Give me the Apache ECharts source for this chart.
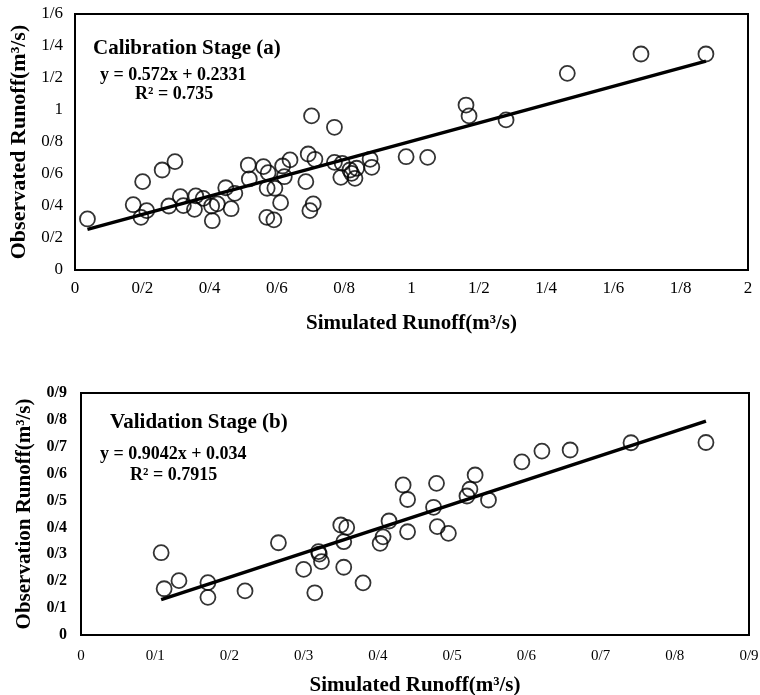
<!DOCTYPE html>
<html>
<head>
<meta charset="utf-8">
<script src="https://cdn.jsdelivr.net/npm/echarts@6/dist/echarts.min.js"></script>
<style>
  html, body { margin: 0; padding: 0; background: #fff; }
  #container { width: 760px; height: 695px; }
</style>
</head>
<body>
<div id="container"></div>
<script>
// calibration stage (a): simulated vs observed
const calibSim = [0.037, 0.173, 0.201, 0.196, 0.213, 0.259, 0.297, 0.279, 0.313, 0.322,
    0.355, 0.359, 0.381, 0.406, 0.423, 0.408, 0.448, 0.464, 0.475, 0.515,
    0.518, 0.560, 0.574, 0.571, 0.594, 0.570, 0.591, 0.611, 0.617, 0.622,
    0.639, 0.686, 0.693, 0.703, 0.698, 0.708, 0.713, 0.771, 0.771, 0.790,
    0.794, 0.817, 0.822, 0.832, 0.837, 0.877, 0.882, 0.984, 1.048, 1.162,
    1.171, 1.281, 1.463, 1.682, 1.875];
const calibObs = [0.319, 0.408, 0.552, 0.329, 0.371, 0.625, 0.677, 0.400, 0.458, 0.402,
    0.379, 0.463, 0.448, 0.400, 0.413, 0.308, 0.514, 0.383, 0.479, 0.656,
    0.569, 0.646, 0.608, 0.511, 0.511, 0.329, 0.313, 0.421, 0.650, 0.583,
    0.688, 0.552, 0.725, 0.963, 0.371, 0.413, 0.692, 0.892, 0.673, 0.579,
    0.667, 0.625, 0.604, 0.573, 0.636, 0.692, 0.642, 0.708, 0.704, 1.031,
    0.963, 0.938, 1.229, 1.350, 1.350];

// validation stage (b)
const validSim = [0.108, 0.112, 0.132, 0.171, 0.171, 0.221, 0.266, 0.300, 0.315, 0.320,
    0.321, 0.324, 0.350, 0.358, 0.354, 0.354, 0.380, 0.403, 0.407, 0.415,
    0.434, 0.440, 0.440, 0.475, 0.479, 0.480, 0.495, 0.520, 0.524, 0.531,
    0.549, 0.594, 0.621, 0.659, 0.741, 0.842];
const validObs = [0.306, 0.172, 0.202, 0.195, 0.140, 0.164, 0.343, 0.244, 0.157, 0.310,
    0.301, 0.273, 0.409, 0.400, 0.347, 0.252, 0.194, 0.341, 0.365, 0.424,
    0.558, 0.504, 0.384, 0.475, 0.564, 0.403, 0.378, 0.517, 0.542, 0.595,
    0.502, 0.644, 0.684, 0.688, 0.715, 0.716];

// trend lines (slope, intercept) as printed on the chart
const calibFit = [0.572, 0.2331];
const validFit = [0.9042, 0.034];

const calibXTicks = ['0', '0/2', '0/4', '0/6', '0/8', '1', '1/2', '1/4', '1/6', '1/8', '2'];
const calibYTicks = ['0', '0/2', '0/4', '0/6', '0/8', '1', '1/2', '1/4', '1/6'];
const validTicks = ['0', '0/1', '0/2', '0/3', '0/4', '0/5', '0/6', '0/7', '0/8', '0/9'];

function zip(a, b) {
    return a.map((v, i) => [v, b[i]]);
}

function fitLine(xs, fit) {
    const lo = Math.min(...xs), hi = Math.max(...xs);
    return [[lo, fit[0] * lo + fit[1]], [hi, fit[0] * hi + fit[1]]];
}

function tickFmt(labels, step) {
    return function (v) {
        return labels[Math.round(v / step)] || '';
    };
}

const serif = '"Liberation Serif", "Times New Roman", serif';

var dom = document.getElementById('container');
var myChart = echarts.init(dom, null, { renderer: 'canvas' });

function axisBase(nameSize) {
    return {
        type: 'value',
        splitLine: { show: false },
        axisTick: { show: false },
        axisLine: { show: true, lineStyle: { color: '#000', width: 2 } },
        nameLocation: 'middle',
        nameTextStyle: { fontFamily: serif, fontWeight: 'bold', color: '#000', fontSize: nameSize }
    };
}

var option = {
    animation: false,
    backgroundColor: '#fff',
    grid: [
        { left: 75, right: 12, top: 14, bottom: 425, show: true, borderColor: '#000', borderWidth: 2,
          outerBoundsMode: 'none' },
        { left: 81, right: 11, top: 393, bottom: 60, show: true, borderColor: '#000', borderWidth: 2,
          outerBoundsMode: 'none' }
    ],
    xAxis: [
        Object.assign(axisBase(21), {
            gridIndex: 0, min: 0, max: 2, interval: 0.2,
            name: 'Simulated Runoff(m³/s)', nameGap: 43,
            axisLabel: { fontFamily: serif, fontSize: 17, color: '#000', margin: 10,
                formatter: tickFmt(calibXTicks, 0.2) }
        }),
        Object.assign(axisBase(21), {
            gridIndex: 1, min: 0, max: 0.9, interval: 0.1,
            name: 'Simulated Runoff(m³/s)', nameGap: 40,
            axisLabel: { fontFamily: serif, fontSize: 15, color: '#000', margin: 14,
                formatter: tickFmt(validTicks, 0.1) }
        })
    ],
    yAxis: [
        Object.assign(axisBase(22), {
            gridIndex: 0, min: 0, max: 1.6, interval: 0.2,
            name: 'Observated Runoff(m³/s)', nameGap: 40,
            axisLabel: { fontFamily: serif, fontSize: 17, color: '#000', margin: 12,
                formatter: tickFmt(calibYTicks, 0.2) }
        }),
        Object.assign(axisBase(21), {
            gridIndex: 1, min: 0, max: 0.9, interval: 0.1,
            name: 'Observation Runoff(m³/s)', nameGap: 46,
            axisLabel: { fontFamily: serif, fontSize: 16, fontWeight: 'bold', color: '#000', margin: 14,
                formatter: tickFmt(validTicks, 0.1) }
        })
    ],
    series: [
        {
            type: 'scatter', xAxisIndex: 0, yAxisIndex: 0,
            data: zip(calibSim, calibObs),
            symbol: 'circle', symbolSize: 15,
            itemStyle: { color: 'transparent', borderColor: '#000', borderWidth: 1.8 }
        },
        {
            type: 'line', xAxisIndex: 0, yAxisIndex: 0, z: 5,
            data: fitLine(calibSim, calibFit),
            symbol: 'none',
            lineStyle: { color: '#000', width: 3.5 }
        },
        {
            type: 'scatter', xAxisIndex: 1, yAxisIndex: 1,
            data: zip(validSim, validObs),
            symbol: 'circle', symbolSize: 15,
            itemStyle: { color: 'transparent', borderColor: '#000', borderWidth: 1.8 }
        },
        {
            type: 'line', xAxisIndex: 1, yAxisIndex: 1, z: 5,
            data: fitLine(validSim, validFit),
            symbol: 'none',
            lineStyle: { color: '#000', width: 3.5 }
        }
    ],
    graphic: [
        { type: 'text', left: 93, top: 38, style: { text: 'Calibration Stage (a)', font: 'bold 21px ' + serif, fill: '#000' } },
        { type: 'text', left: 100, top: 66, style: { text: 'y = 0.572x + 0.2331', font: 'bold 18px ' + serif, fill: '#000' } },
        { type: 'text', left: 135, top: 85, style: { text: 'R² = 0.735', font: 'bold 18px ' + serif, fill: '#000' } },
        { type: 'text', left: 110, top: 412, style: { text: 'Validation Stage (b)', font: 'bold 21px ' + serif, fill: '#000' } },
        { type: 'text', left: 100, top: 445, style: { text: 'y = 0.9042x + 0.034', font: 'bold 18px ' + serif, fill: '#000' } },
        { type: 'text', left: 130, top: 466, style: { text: 'R² = 0.7915', font: 'bold 18px ' + serif, fill: '#000' } }
    ]
};

myChart.setOption(option);
window.addEventListener('resize', myChart.resize);
</script>
</body>
</html>
